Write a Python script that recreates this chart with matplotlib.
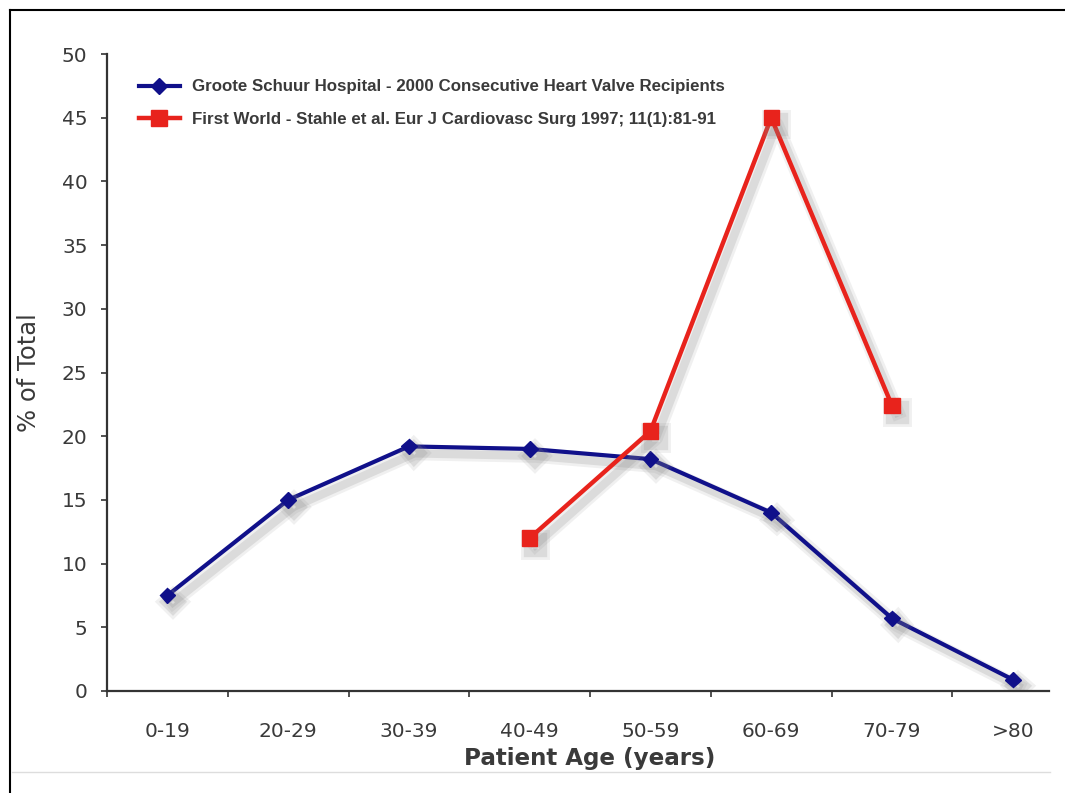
import matplotlib
matplotlib.use("Agg")
import matplotlib.pyplot as plt
import matplotlib.patheffects as pe
from matplotlib.lines import Line2D
import numpy as np

# age bands and % of total for each series
age_groups = ['0-19', '20-29', '30-39', '40-49', '50-59', '60-69', '70-79', '>80']
groote_schuur = [7.5, 15.0, 19.2, 19.0, 18.2, 14.0, 5.7, 0.9]
first_world_groups = ['40-49', '50-59', '60-69', '70-79']
first_world = [12.0, 20.4, 45.0, 22.4]

label_gs = 'Groote Schuur Hospital - 2000 Consecutive Heart Valve Recipients'
label_fw = 'First World - Stahle et al. Eur J Cardiovasc Surg 1997; 11(1):81-91'

text_col = '#3a3a3a'
blue = '#10108a'
red = '#e8231c'

fig = plt.figure(figsize=(10.65, 7.93), dpi=100)
ax = fig.add_axes([107/1065, 1-691/793, (1049-107)/1065, (691-54)/793])

# soft drop shadow under the lines
shadow = [pe.SimpleLineShadow(offset=(4, -5), shadow_color='#888888', alpha=0.12, linewidth=10),
          pe.SimpleLineShadow(offset=(4, -5), shadow_color='#888888', alpha=0.2, linewidth=6),
          pe.Normal()]

x_gs = np.arange(len(age_groups))
x_fw = [age_groups.index(g) for g in first_world_groups]

ax.plot(x_gs, groote_schuur, color=blue, lw=3, marker='D', ms=8,
        label=label_gs, path_effects=shadow, solid_joinstyle='round')
ax.plot(x_fw, first_world, color=red, lw=3.2, marker='s', ms=11,
        label=label_fw, path_effects=shadow, solid_joinstyle='round')

ax.set_xlim(-0.5, 7.3)
ax.set_ylim(0, 50)
ax.set_yticks(range(0, 51, 5))
ax.set_xticks(x_gs)
ax.set_xticklabels(age_groups)
ax.set_xticks(np.arange(-0.5, 7, 1), minor=True)

for side in ['top', 'right']:
    ax.spines[side].set_visible(False)
for side in ['left', 'bottom']:
    ax.spines[side].set_color('#333333')
    ax.spines[side].set_linewidth(1.6)

ax.tick_params(axis='y', direction='out', length=4, width=1.2, color='#333333',
               labelsize=14.5, labelcolor=text_col, pad=10)
ax.tick_params(axis='x', which='major', length=0, labelsize=14.5, labelcolor=text_col, pad=22)
ax.tick_params(axis='x', which='minor', direction='out', length=4, width=1.2, color='#333333')

ax.set_xlabel('Patient Age (years)', fontsize=16.6, fontweight='bold', color=text_col)
ax.xaxis.set_label_coords(0.512, -0.088)
ax.set_ylabel('% of Total', fontsize=17.5, color=text_col)
ax.yaxis.set_label_coords(-0.07, 0.5)

leg = ax.legend(loc='upper left', bbox_to_anchor=(0.034, 0.960), frameon=False,
                borderpad=0, borderaxespad=0, handlelength=2.4, handletextpad=0.75,
                labelspacing=1.05, prop={'family': 'Liberation Sans', 'weight': 'bold', 'size': 12.2})
for t in leg.get_texts():
    t.set_color(text_col)
for h in leg.legend_handles:
    h.set_path_effects([])

# frame lines around the picture
fig.add_artist(Line2D([10/1065, 10/1065], [0, 1-10/793], color='black', lw=1.5))
fig.add_artist(Line2D([10/1065, 1], [1-10/793, 1-10/793], color='black', lw=1.5))
fig.add_artist(Line2D([12/1065, 1050/1065], [1-772/793, 1-772/793], color='#dddddd', lw=1))

fig.savefig('out.png', dpi=100)
